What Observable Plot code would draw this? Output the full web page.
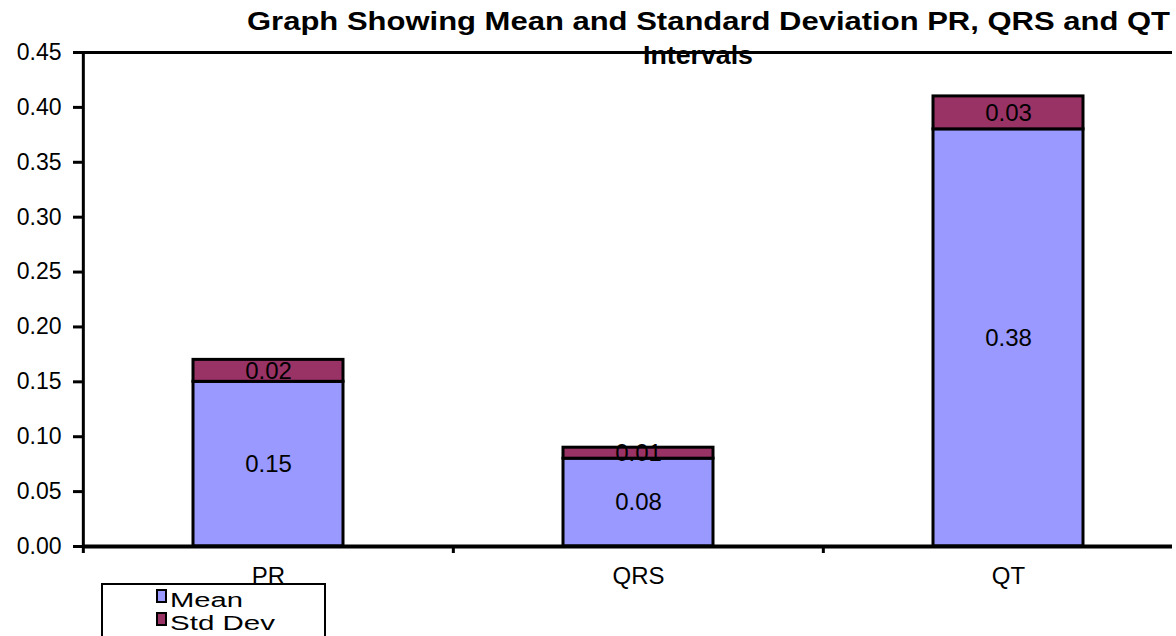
<!DOCTYPE html>
<html><head><meta charset="utf-8">
<script src="https://cdn.jsdelivr.net/npm/d3@7"></script>
<script src="https://cdn.jsdelivr.net/npm/@observablehq/plot@0.6"></script>
<style>
body{margin:0;background:#fff;font-family:"Liberation Sans",Arial,sans-serif;color:#000;}
#wrap{position:relative;width:1176px;height:636px;overflow:hidden;background:#fff;}
.tline{position:absolute;font-weight:bold;font-size:25px;line-height:25px;white-space:nowrap;transform-origin:0 0;}
#chart{position:absolute;left:0;top:0;}
#legend{position:absolute;left:101px;top:583px;width:221px;height:80px;border:2px solid #000;background:transparent;}
#legend .sw{position:absolute;left:53px;width:11px;height:14px;border:2px solid #000;box-sizing:border-box;}
#legend .lab{position:absolute;left:67px;font-size:20px;line-height:20px;height:20px;white-space:nowrap;transform-origin:0 0;}
</style></head>
<body>
<div id="wrap">
  <div id="title"></div>
  <div id="chart"></div>
  <div id="legend"></div>
</div>
<script>
const categories = ["PR", "QRS", "QT"];
const seriesNames = ["Mean", "Std Dev"];
const meanValues = [0.15, 0.08, 0.38];
const sdValues = [0.02, 0.01, 0.03];
const yTicks = [0, 0.05, 0.10, 0.15, 0.20, 0.25, 0.30, 0.35, 0.40, 0.45];
const seriesColors = ["#9999FF", "#993366"];
const titleLines = ["Graph Showing Mean and Standard Deviation PR, QRS and QT", "Intervals"];

const rows = categories.flatMap((c, i) => [
  {cat: c, series: seriesNames[0], value: meanValues[i]},
  {cat: c, series: seriesNames[1], value: sdValues[i]}
]);

const xRange = [82, 1193];
const step = (xRange[1] - xRange[0]) / categories.length;

const chart = Plot.plot({
  width: 1172,
  height: 636,
  marginTop: 52,
  marginBottom: 90,
  marginLeft: 82,
  marginRight: 0,
  style: {fontFamily: "Liberation Sans, Arial, sans-serif", background: "transparent", color: "black"},
  x: {type: "band", domain: categories, range: xRange, paddingInner: 0.595, paddingOuter: 0.2975, label: null},
  y: {domain: [yTicks[0], yTicks[yTicks.length - 1]], label: null},
  color: {domain: seriesNames, range: seriesColors},
  marks: [
    Plot.barY(rows, {x: "cat", y: "value", fill: "series", stroke: "black", strokeWidth: 3}),
    Plot.text(rows, Plot.stackY({x: "cat", y: "value", text: d => d.value.toFixed(2), fontSize: 24, fill: "black", style: {letterSpacing: "1.2px"}})),
    Plot.ruleY([yTicks[0]], {strokeWidth: 4}),
    Plot.ruleY([yTicks[yTicks.length - 1]], {strokeWidth: 3}),
    Plot.ruleX([categories[0]], {dx: -step / 2, y1: yTicks[yTicks.length - 1], y2: yTicks[0], insetBottom: -7, strokeWidth: 3}),
    Plot.ruleX(categories.slice(1), {dx: -step / 2, y1: yTicks[0], y2: yTicks[0], insetBottom: -7, strokeWidth: 3}),
    Plot.axisY({ticks: yTicks, tickFormat: d3.format(".2f"), tickSize: 9, tickPadding: 12, strokeWidth: 3, fontSize: 23, label: null, style: {letterSpacing: "0.5px"}}),
    Plot.axisX({tickSize: 0, tickPadding: 20, fontSize: 24, label: null})
  ]
});
document.getElementById("chart").appendChild(chart);

// title lines: fit each line to the reference's measured span
const titleSpans = [{left: 247, width: 923, top: 9}, {left: 643, width: 110, top: 43}];
const titleEl = document.getElementById("title");
titleLines.forEach((t, i) => {
  const d = document.createElement("div");
  d.className = "tline";
  d.textContent = t;
  d.style.left = titleSpans[i].left + "px";
  d.style.top = titleSpans[i].top + "px";
  titleEl.appendChild(d);
  const w = d.getBoundingClientRect().width;
  d.style.transform = `scaleX(${titleSpans[i].width / w})`;
});

// legend labels fitted to the reference's measured widths
const legendWidths = [73, 105];
const legendEl = document.getElementById("legend");
seriesNames.forEach((s, i) => {
  const sw = document.createElement("div");
  sw.className = "sw";
  sw.style.top = (4 + i * 23) + "px";
  sw.style.background = seriesColors[i];
  legendEl.appendChild(sw);
  const lab = document.createElement("div");
  lab.className = "lab";
  lab.style.top = (5 + i * 23) + "px";
  lab.textContent = s;
  legendEl.appendChild(lab);
  const w = lab.getBoundingClientRect().width;
  lab.style.transform = `scaleX(${legendWidths[i] / w})`;
});
</script>
</body></html>
